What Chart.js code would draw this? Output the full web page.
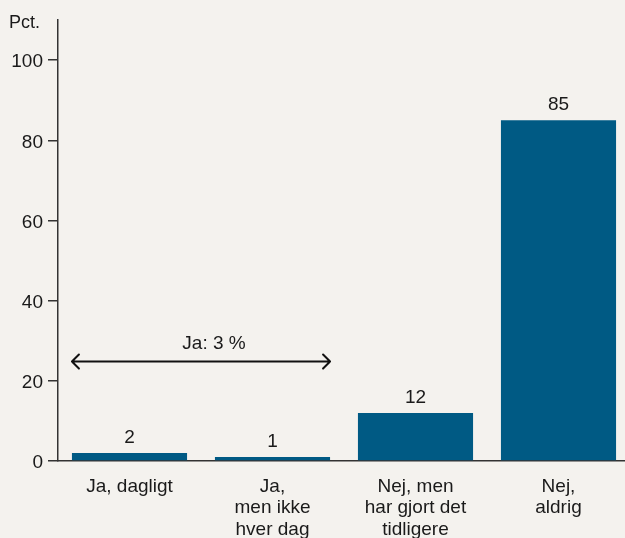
<!DOCTYPE html>
<html lang="da">
<head>
<meta charset="utf-8">
<title>Ryger du?</title>
<script src="https://cdn.jsdelivr.net/npm/chart.js@4.4.1/dist/chart.umd.min.js"></script>
<style>
  html, body { margin: 0; padding: 0; background: #f4f2ee; overflow: hidden; }
  #wrap { width: 630px; height: 538px; }
</style>
</head>
<body>
<div id="wrap"><canvas id="chart" width="630" height="538"></canvas></div>
<script>
// Svarkategorier og andele i procent
const categories = [
  ['Ja, dagligt'],
  ['Ja,', 'men ikke', 'hver dag'],
  ['Nej, men', 'har gjort det', 'tidligere'],
  ['Nej,', 'aldrig']
];
const shares = [2, 1, 12, 85];
const yTicks = [0, 20, 40, 60, 80, 100];
const yUnit = 'Pct.';
const bracketLabel = 'Ja: 3 %';
const bracketFrom = 0;   // første "Ja"-kategori
const bracketTo = 1;     // sidste "Ja"-kategori

const FONT = '"Liberation Sans", Arial, Helvetica, sans-serif';
const INK = '#1a1a1a';
const AXIS = '#333333';
const BAR = '#005a84';
const BG = '#f4f2ee';

const background = {
  id: 'background',
  beforeDraw(chart) {
    const c = chart.ctx;
    c.save();
    c.fillStyle = BG;
    c.fillRect(0, 0, chart.width, chart.height);
    c.restore();
  }
};

const annotations = {
  id: 'annotations',
  afterDatasetsDraw(chart) {
    const c = chart.ctx;
    const meta = chart.getDatasetMeta(0);
    const y = chart.scales.y;
    c.save();
    c.fillStyle = INK;
    c.font = '19px ' + FONT;
    c.textAlign = 'center';
    c.textBaseline = 'bottom';
    // værdier over søjlerne
    meta.data.forEach((bar, i) => {
      c.fillText(String(shares[i]), bar.x, bar.y - 6);
    });

    // dobbeltpil over "Ja"-søjlerne
    const left = meta.data[bracketFrom];
    const right = meta.data[bracketTo];
    const x0 = left.x - left.width / 2;
    const x1 = right.x + right.width / 2;
    const ay = y.getPixelForValue(24.8);
    const h = 7;
    c.strokeStyle = '#111';
    c.lineWidth = 2;
    c.lineCap = 'round';
    c.lineJoin = 'round';
    c.beginPath();
    c.moveTo(x0, ay); c.lineTo(x1, ay);
    c.moveTo(x0 + h, ay - h); c.lineTo(x0, ay); c.lineTo(x0 + h, ay + h);
    c.moveTo(x1 - h, ay - h); c.lineTo(x1, ay); c.lineTo(x1 - h, ay + h);
    c.stroke();
    c.textBaseline = 'middle';
    c.fillText(bracketLabel, (x0 + x1) / 2 + 13, ay - 18);

    // enhed over y-aksen
    c.textAlign = 'left';
    c.textBaseline = 'alphabetic';
    c.font = '18px ' + FONT;
    c.fillText(yUnit, 9, 28);
    c.restore();
  }
};

new Chart(document.getElementById('chart'), {
  type: 'bar',
  data: {
    labels: categories,
    datasets: [{
      data: shares,
      backgroundColor: BAR,
      borderWidth: 0,
      barPercentage: 0.805,
      categoryPercentage: 1
    }]
  },
  options: {
    responsive: false,
    animation: false,
    events: [],
    layout: { padding: { top: 20, right: 0, left: 0, bottom: 0 } },
    plugins: {
      legend: { display: false },
      tooltip: { enabled: false },
      title: { display: false }
    },
    scales: {
      x: {
        grid: { display: false },
        border: { display: true, color: AXIS, width: 1.5 },
        ticks: {
          color: INK,
          font: { family: FONT, size: 19, lineHeight: 1.13 },
          padding: 7,
          maxRotation: 0,
          autoSkip: false
        },
        afterFit(scale) { scale.height = 77; }
      },
      y: {
        min: 0,
        max: 110,
        grid: {
          drawOnChartArea: false,
          drawTicks: true,
          tickLength: 10,
          color: AXIS,
          lineWidth: 1.5
        },
        border: { display: true, color: AXIS, width: 1.5 },
        ticks: {
          stepSize: 20,
          color: INK,
          padding: 5,
          labelOffset: 2,
          font: { family: FONT, size: 19 }
        },
        afterBuildTicks(scale) {
          scale.ticks = yTicks.map(v => ({ value: v }));
        },
        afterFit(scale) { scale.width = 58; }
      }
    }
  },
  plugins: [background, annotations]
});
</script>
</body>
</html>
